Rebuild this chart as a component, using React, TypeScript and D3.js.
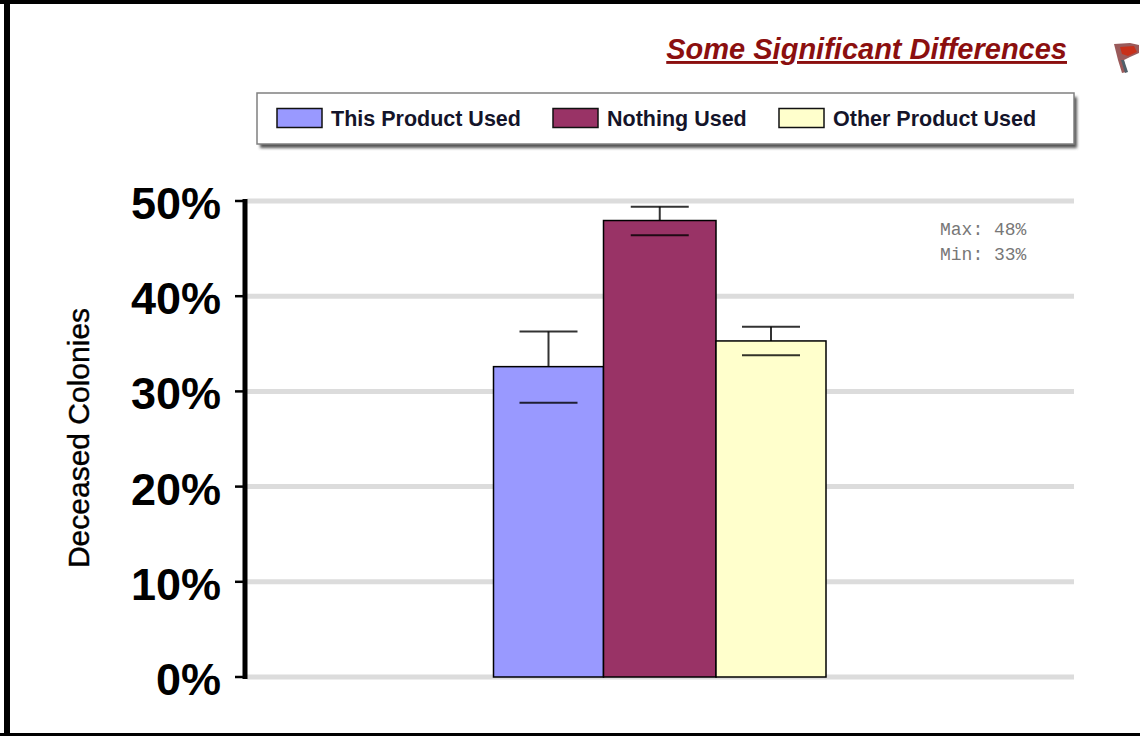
import React from "react";
import * as d3 from "d3";

const categories = ["This Product Used", "Nothing Used", "Other Product Used"];
const means = [32.6, 47.95, 35.3];
const upperErrors = [36.3, 49.4, 36.8];
const lowerErrors = [28.8, 46.4, 33.8];
const barColors = ["#9999ff", "#993366", "#ffffcc"];
const yTicks = [0, 10, 20, 30, 40, 50];
const statLines = ["Max: 48%", "Min: 33%"];

const legendSwatchX = [277, 553, 779];
const sans = "'Liberation Sans', Arial, sans-serif";

export default function App() {
  const y = d3.scaleLinear().domain([0, 50]).range([677, 201]);
  const x = d3.scalePoint<string>().domain(categories).range([548.5, 771]);
  const barEdges = [493.5, 603.5, 716, 826];
  return (
    <svg width={1140} height={736} style={{ position: "fixed", left: 0, top: 0, background: "#fff" }}>
      <defs>
        <filter id="shadow" x="-5%" y="-20%" width="110%" height="150%">
          <feGaussianBlur stdDeviation="1.5" />
        </filter>
      </defs>
      {/* frame */}
      <rect x={0} y={0} width={1140} height={4} fill="#000" />
      <rect x={4} y={0} width={6} height={736} fill="#000" />
      <rect x={0} y={733} width={1140} height={3} fill="#000" />

      {/* title */}
      <text x={1067} y={59} textAnchor="end" fontFamily={sans} fontWeight="bold" fontStyle="italic" fontSize={29} fill="#8b0f0f" textDecoration="underline">
        Some Significant Differences
      </text>

      {/* flag icon */}
      <g>
        <path d="M1114,44 L1130,43 L1139,45 L1139,53 L1130,57 L1124,60 L1126,72 L1122,73 L1118,60 Z" fill="#9a5a5a" />
        <path d="M1120,47 L1134,46 L1137,52 L1128,56 L1122,54 Z" fill="#c8301a" />
        <path d="M1121,60 L1124,60 L1128,72 L1125,73 Z" fill="#50606a" />
      </g>

      {/* legend */}
      <rect x={260} y={97} width={817} height={51} fill="#555" filter="url(#shadow)" />
      <rect x={257} y={93} width={817} height={51} fill="#fff" stroke="#808080" strokeWidth={1.5} />
      {categories.map((c, i) => (
        <g key={c}>
          <rect x={legendSwatchX[i]} y={108.5} width={45} height={19} fill={barColors[i]} stroke="#111" strokeWidth={1.5} />
          <text x={legendSwatchX[i] + 54} y={126} fontFamily={sans} fontWeight="bold" fontSize={21.5} fill="#14142a">
            {c}
          </text>
        </g>
      ))}

      {/* gridlines */}
      {yTicks.map((t) => (
        <line key={t} x1={247} x2={1074} y1={y(t)} y2={y(t)} stroke="#dcdcdc" strokeWidth={5} />
      ))}

      {/* axis */}
      <line x1={245} x2={245} y1={199} y2={679} stroke="#000" strokeWidth={5} />
      {yTicks.map((t) => (
        <g key={t}>
          <line x1={235} x2={247} y1={y(t)} y2={y(t)} stroke="#000" strokeWidth={2.5} />
          <text x={221} y={y(t) + 18} textAnchor="end" fontFamily={sans} fontWeight="bold" fontSize={45} fill="#000">
            {t}%
          </text>
        </g>
      ))}
      <text transform="translate(89,438) rotate(-90)" textAnchor="middle" fontFamily={sans} fontSize={30} fill="#000" stroke="#000" strokeWidth={0.4}>
        Deceased Colonies
      </text>

      {/* bars */}
      {categories.map((c, i) => (
        <rect key={c} x={barEdges[i]} y={y(means[i])} width={barEdges[i + 1] - barEdges[i]} height={y(0) - y(means[i])} fill={barColors[i]} stroke="#000" strokeWidth={1.5} />
      ))}

      {/* error bars */}
      {categories.map((c, i) => {
        const cx = x(c)!;
        return (
          <g key={c} stroke="#000" strokeOpacity={0.8} strokeWidth={2}>
            <line x1={cx} x2={cx} y1={y(upperErrors[i])} y2={y(means[i])} />
            <line x1={cx - 29} x2={cx + 29} y1={y(upperErrors[i])} y2={y(upperErrors[i])} />
            <line x1={cx - 29} x2={cx + 29} y1={y(lowerErrors[i])} y2={y(lowerErrors[i])} />
          </g>
        );
      })}

      {/* stats */}
      {statLines.map((s, i) => (
        <text key={s} x={940} y={235 + i * 25} fontFamily="'Liberation Mono', monospace" fontSize={18} fill="#777" xmlSpace="preserve">
          {s}
        </text>
      ))}
    </svg>
  );
}
